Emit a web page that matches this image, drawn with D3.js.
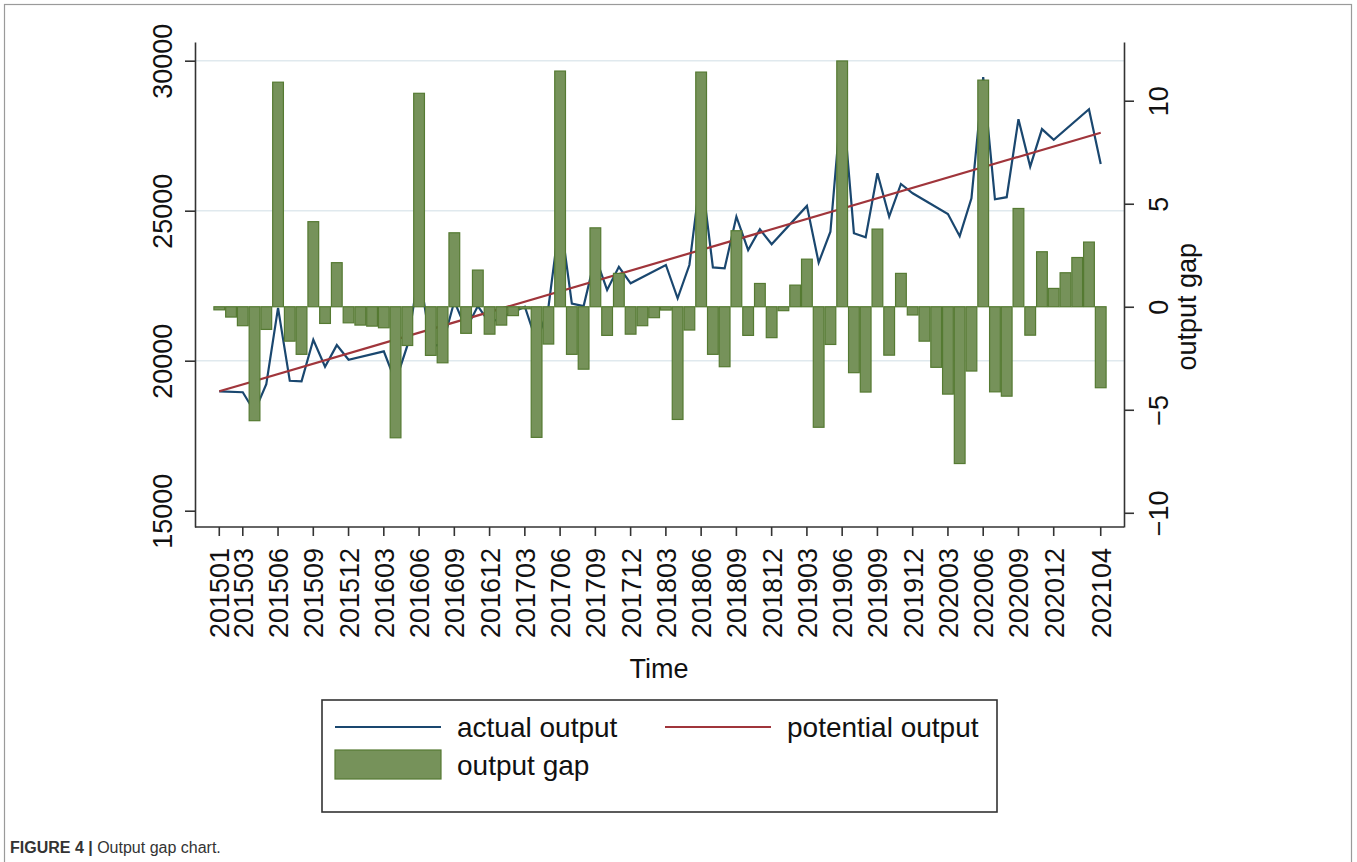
<!DOCTYPE html>
<html lang="en">
<head>
<meta charset="UTF-8">
<title>Output gap chart</title>
<script src="https://d3js.org/d3.v7.min.js"></script>
<style>
    body { margin: 0; background: #fff; }
    svg text { font-family: "Liberation Sans", Arial, sans-serif; }
</style>
</head>
<body>
<svg width="1357" height="862"></svg>
<script>
    // monthly categories on the x axis
    const months = [
        '201501','201502','201503','201504','201505','201506','201507','201508','201509','201510','201511','201512',
        '201601','201602','201603','201604','201605','201606','201607','201608','201609','201610','201611','201612',
        '201701','201702','201703','201704','201705','201706','201707','201708','201709','201710','201711','201712',
        '201801','201802','201803','201804','201805','201806','201807','201808','201809','201810','201811','201812',
        '201901','201902','201903','201904','201905','201906','201907','201908','201909','201910','201911','201912',
        '202001','202002','202003','202004','202005','202006','202007','202008','202009','202010','202011','202012',
        '202101','202102','202103','202104'
    ]

    // output gap (%), one bar per month
    const gapValues = [
        -0.15, -0.5, -0.92, -5.53, -1.1, 10.9, -1.67, -2.31, 4.13, -0.81, 2.14, -0.78,
        -0.89, -0.94, -1.02, -6.36, -1.88, 10.36, -2.36, -2.72, 3.59, -1.29, 1.78, -1.33,
        -0.89, -0.43, -0.1, -6.34, -1.81, 11.44, -2.31, -3.03, 3.83, -1.39, 1.62, -1.33,
        -0.92, -0.53, -0.16, -5.47, -1.13, 11.39, -2.31, -2.91, 3.69, -1.39, 1.13, -1.5,
        -0.19, 1.05, 2.31, -5.85, -1.83, 11.93, -3.2, -4.14, 3.77, -2.35, 1.62, -0.4,
        -1.67, -2.94, -4.24, -7.61, -3.12, 11.0, -4.13, -4.34, 4.77, -1.38, 2.67, 0.89,
        1.65, 2.39, 3.14, -3.93
    ]

    // actual output (no separate Jan/Feb observations after 2015)
    const actualMonths = [
        '201501','201503','201504','201505','201506','201507','201508','201509','201510','201511','201512',
        '201603','201604','201605','201606','201607','201608','201609','201610','201611','201612',
        '201703','201704','201705','201706','201707','201708','201709','201710','201711','201712',
        '201803','201804','201805','201806','201807','201808','201809','201810','201811','201812',
        '201903','201904','201905','201906','201907','201908','201909','201910','201911','201912',
        '202003','202004','202005','202006','202007','202008','202009','202010','202011','202012',
        '202103','202104'
    ]
    const actualValues = [
        18980, 18950, 18300, 19220, 21760, 19330, 19310, 20700, 19800, 20520, 20030,
        20310, 19300, 20500, 23000, 20500, 20530, 21980, 21050, 21820, 21260,
        21800, 20620, 21760, 24800, 21900, 21820, 23460, 22360, 23130, 22580,
        23190, 22080, 23190, 26300, 23110, 23080, 24800, 23690, 24380, 23880,
        25160, 23270, 24300, 28900, 24250, 24110, 26250, 24800, 25890, 25580,
        24890, 24150, 25410, 29450, 25380, 25450, 28050, 26470, 27720, 27360,
        28380, 26560
    ]

    // potential output (linear trend)
    const potentialMonths = ['201501', '202104']
    const potentialValues = [18980, 27600]

    const xTickLabels = [
        '201501','201503','201506','201509','201512','201603','201606','201609','201612',
        '201703','201706','201709','201712','201803','201806','201809','201812',
        '201903','201906','201909','201912','202003','202006','202009','202012','202104'
    ]
    const leftTicks = [15000, 20000, 25000, 30000]
    const gridTicks = [20000, 25000, 30000]
    const rightTicks = [-10, -5, 0, 5, 10]

    let svg = d3.select('svg')
    let plot = {left: 195, right: 1124, top: 42, bottom: 527}
    let fontSize = 27

    // figure frame
    svg.append('rect')
        .attr('x', 4.5).attr('y', 4.5)
        .attr('width', 1347).attr('height', 900)
        .attr('fill', 'none')
        .attr('stroke', '#9a9a9a')
        .attr('stroke-width', 1.2)

    let x = d3.scaleBand().domain(months).range([213.4, 1106.6]).padding(0)
    let yL = d3.scaleLinear().domain([14457, 30623]).range([plot.bottom, plot.top])
    let yR = d3.scaleLinear().domain([-10.69, 12.85]).range([plot.bottom, plot.top])
    let cx = function (m) { return x(m) + x.bandwidth() / 2 }

    // grid lines
    svg.append('g')
        .selectAll('line')
        .data(gridTicks)
        .enter()
        .append('line')
        .attr('x1', plot.left).attr('x2', plot.right)
        .attr('y1', function (d) { return yL(d) })
        .attr('y2', function (d) { return yL(d) })
        .attr('stroke', '#e0e9ee')
        .attr('stroke-width', 1.5)

    // actual output
    let lineGen = d3.line()
        .x(function (d) { return cx(d[0]) })
        .y(function (d) { return yL(d[1]) })

    svg.append('path')
        .datum(d3.zip(actualMonths, actualValues))
        .attr('d', lineGen)
        .attr('fill', 'none')
        .attr('stroke', '#1a476f')
        .attr('stroke-width', 2.2)
        .attr('stroke-linejoin', 'miter')

    // potential output
    svg.append('path')
        .datum(d3.zip(potentialMonths, potentialValues))
        .attr('d', lineGen)
        .attr('fill', 'none')
        .attr('stroke', '#a0353b')
        .attr('stroke-width', 2.2)

    // output gap bars, drawn on top of the lines
    svg.append('g')
        .selectAll('rect')
        .data(d3.zip(months, gapValues))
        .enter()
        .append('rect')
        .attr('x', function (d) { return x(d[0]) + 0.5 })
        .attr('width', x.bandwidth() - 1)
        .attr('y', function (d) { return Math.min(yR(d[1]), yR(0)) })
        .attr('height', function (d) { return Math.max(Math.abs(yR(d[1]) - yR(0)), 1) })
        .attr('fill', '#76925a')
        .attr('stroke', '#557a32')
        .attr('stroke-width', 1.2)

    // axes
    function styleAxis(g) {
        g.selectAll('path').attr('stroke', '#333').attr('stroke-width', 1.6)
        g.selectAll('line').attr('stroke', '#333').attr('stroke-width', 1.6)
        g.selectAll('text')
            .attr('fill', '#111')
            .attr('font-size', fontSize)
            .attr('font-family', '"Liberation Sans", Arial, sans-serif')
    }

    let leftAxis = svg.append('g')
        .attr('transform', 'translate(' + plot.left + ',0)')
        .call(d3.axisLeft(yL).tickValues(leftTicks).tickFormat(d3.format('d')).tickSize(10).tickSizeOuter(0))
    styleAxis(leftAxis)
    leftAxis.selectAll('.tick text')
        .attr('transform', 'rotate(-90)')
        .attr('x', 0).attr('y', -23).attr('dy', 0)
        .attr('text-anchor', 'middle')

    let rightAxis = svg.append('g')
        .attr('transform', 'translate(' + plot.right + ',0)')
        .call(d3.axisRight(yR).tickValues(rightTicks).tickFormat(d3.format('d')).tickSize(10).tickSizeOuter(0))
    styleAxis(rightAxis)
    rightAxis.selectAll('.tick text')
        .attr('transform', 'rotate(-90)')
        .attr('x', 0).attr('y', 44).attr('dy', 0)
        .attr('text-anchor', 'middle')

    let bottomAxis = svg.append('g')
        .attr('transform', 'translate(0,' + plot.bottom + ')')
        .call(d3.axisBottom(x).tickValues(xTickLabels).tickSize(9).tickSizeOuter(0))
    bottomAxis.select('.domain').remove()
    styleAxis(bottomAxis)
    bottomAxis.selectAll('.tick text')
        .attr('transform', 'rotate(-90)')
        .attr('x', -21).attr('y', 10).attr('dy', 0)
        .attr('text-anchor', 'end')

    svg.append('line')
        .attr('x1', plot.left).attr('x2', plot.right)
        .attr('y1', plot.bottom).attr('y2', plot.bottom)
        .attr('stroke', '#333').attr('stroke-width', 1.6)

    // axis titles
    svg.append('text')
        .attr('x', (plot.left + plot.right) / 2 - 0.5)
        .attr('y', 678)
        .attr('text-anchor', 'middle')
        .attr('font-size', fontSize)
        .attr('fill', '#111')
        .text('Time')

    svg.append('text')
        .attr('transform', 'translate(1196,' + yR(0) + ') rotate(-90)')
        .attr('text-anchor', 'middle')
        .attr('font-size', fontSize)
        .attr('fill', '#111')
        .text('output gap')

    // legend
    let legend = svg.append('g')
    legend.append('rect')
        .attr('x', 322).attr('y', 700)
        .attr('width', 675).attr('height', 112)
        .attr('fill', '#fff')
        .attr('stroke', '#333')
        .attr('stroke-width', 1.6)

    let legendItems = [
        {label: 'actual output', type: 'line', color: '#1a476f', x: 335, y: 727},
        {label: 'potential output', type: 'line', color: '#a0353b', x: 665, y: 727},
        {label: 'output gap', type: 'bar', color: '#76925a', x: 335, y: 765}
    ]
    legendItems.forEach(function (item) {
        if (item.type === 'line') {
            legend.append('line')
                .attr('x1', item.x).attr('x2', item.x + 106)
                .attr('y1', item.y).attr('y2', item.y)
                .attr('stroke', item.color)
                .attr('stroke-width', 2.2)
        } else {
            legend.append('rect')
                .attr('x', item.x).attr('y', item.y - 15)
                .attr('width', 106).attr('height', 29)
                .attr('fill', item.color)
                .attr('stroke', '#557a32')
                .attr('stroke-width', 1.2)
        }
        legend.append('text')
            .attr('x', item.x + 122)
            .attr('y', item.y + 10)
            .attr('font-size', 28)
            .attr('fill', '#111')
            .text(item.label)
    })

    // caption
    let caption = svg.append('text')
        .attr('x', 10).attr('y', 853)
        .attr('font-size', 16)
        .attr('fill', '#333')
    caption.append('tspan').attr('font-weight', 'bold').text('FIGURE 4 |')
    caption.append('tspan').text(' Output gap chart.')
</script>
</body>
</html>
